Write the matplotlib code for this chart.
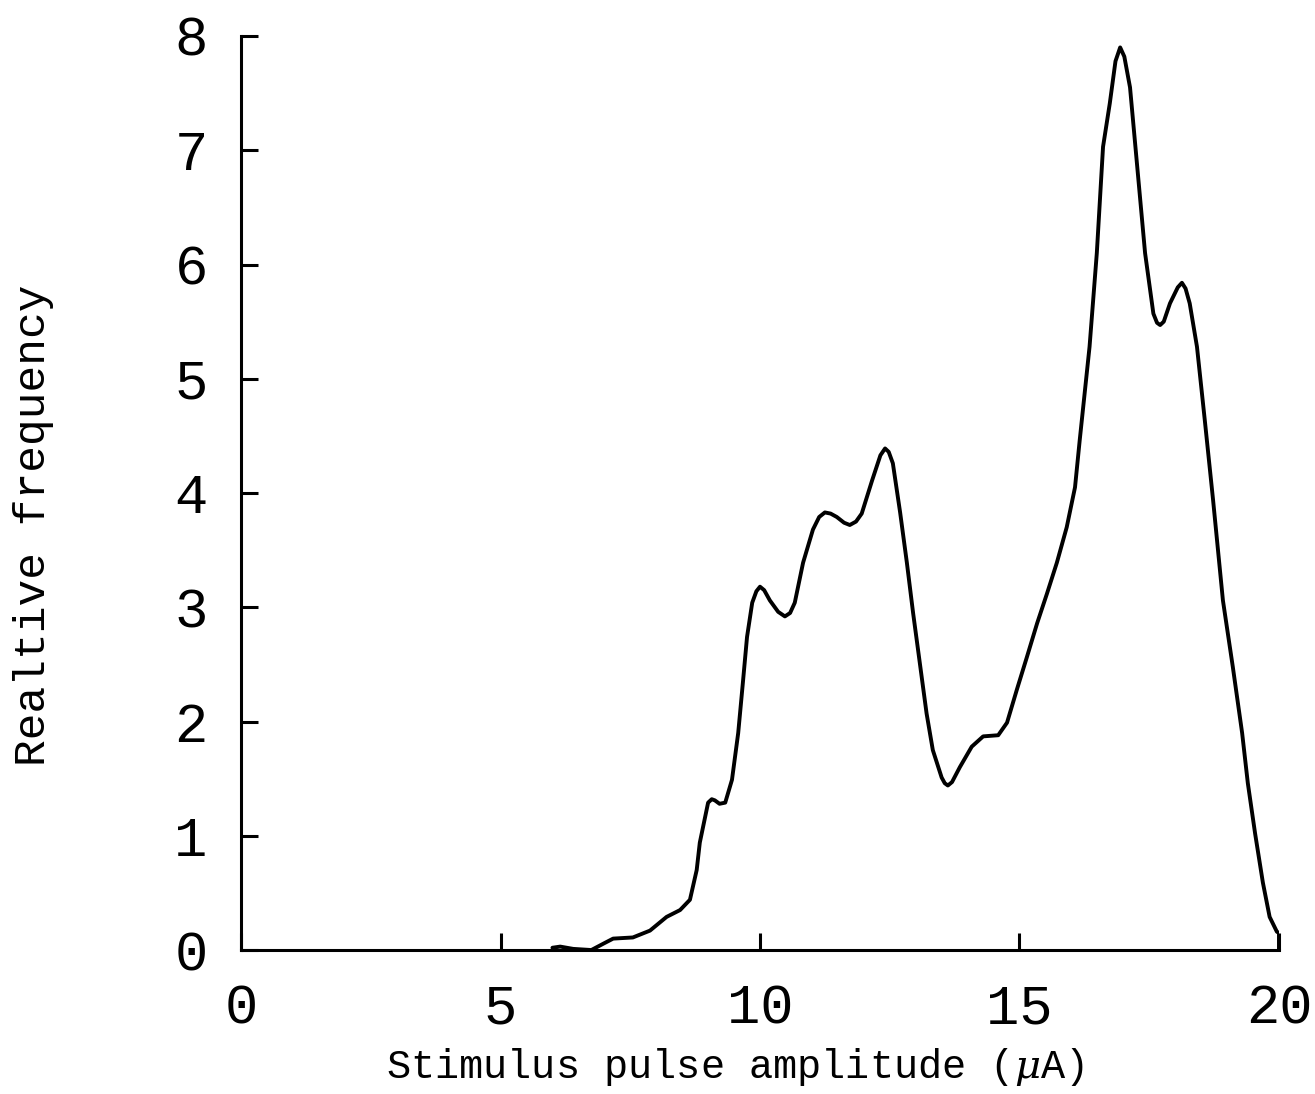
import matplotlib.pyplot as plt

# Stimulus pulse amplitude (uA) and relative frequency
amplitude = [
    6.0, 6.15, 6.4, 6.75, 7.0, 7.17, 7.55, 7.88, 8.2, 8.46, 8.65, 8.78,
    8.84, 9.0, 9.07, 9.13, 9.22, 9.33, 9.46, 9.58, 9.67, 9.75, 9.85, 9.93,
    10.0, 10.08, 10.19, 10.35, 10.48, 10.58, 10.67, 10.83, 11.02, 11.14,
    11.25, 11.36, 11.48, 11.62, 11.73, 11.85, 11.96, 12.16, 12.32, 12.41,
    12.48, 12.56, 12.7, 12.83, 12.95, 13.08, 13.21, 13.33, 13.5, 13.56,
    13.62, 13.7, 13.85, 14.08, 14.3, 14.59, 14.76, 14.95, 15.14, 15.34,
    15.53, 15.72, 15.91, 16.07, 16.16, 16.35, 16.49, 16.61, 16.74, 16.85,
    16.94, 17.02, 17.13, 17.28, 17.42, 17.58, 17.65, 17.71, 17.78, 17.9,
    18.05, 18.13, 18.2, 18.28, 18.42, 18.57, 18.73, 18.92, 19.11, 19.29,
    19.4, 19.54, 19.69, 19.82, 19.96, 20.0, 20.0,
]
frequency = [
    0.02, 0.03, 0.01, 0.0, 0.06, 0.1, 0.11, 0.17, 0.29, 0.35, 0.44, 0.7,
    0.94, 1.29, 1.32, 1.31, 1.28, 1.29, 1.49, 1.9, 2.34, 2.74, 3.04, 3.14,
    3.18, 3.15, 3.06, 2.96, 2.92, 2.95, 3.04, 3.39, 3.68, 3.79,
    3.83, 3.82, 3.79, 3.74, 3.72, 3.75, 3.82, 4.11, 4.33, 4.39,
    4.36, 4.26, 3.83, 3.39, 2.95, 2.51, 2.07, 1.75, 1.51, 1.46,
    1.44, 1.47, 1.6, 1.78, 1.87, 1.88, 1.99, 2.28, 2.56, 2.86,
    3.12, 3.39, 3.7, 4.05, 4.46, 5.28, 6.1, 7.03, 7.41, 7.78,
    7.9, 7.82, 7.55, 6.8, 6.1, 5.57, 5.49, 5.47, 5.5, 5.66,
    5.8, 5.84, 5.79, 5.66, 5.28, 4.64, 3.94, 3.06, 2.48, 1.9,
    1.46, 1.02, 0.59, 0.29, 0.16, 0.15, 0.0,
]
x_ticks = [0, 5, 10, 15, 20]
y_ticks = [0, 1, 2, 3, 4, 5, 6, 7, 8]

plt.rcParams["font.family"] = ["Liberation Mono", "DejaVu Sans"]
plt.rcParams["mathtext.fontset"] = "dejavuserif"

fig = plt.figure(figsize=(13.15, 10.94), dpi=100)
ax = fig.add_axes([0.1833, 0.1316, 0.7893, 0.8355])

ax.plot(amplitude, frequency, color="black", linewidth=2.8,
        solid_joinstyle="round", solid_capstyle="round")

ax.set_xlim(0, 20)
ax.set_ylim(0, 8)
ax.set_xticks(x_ticks)
ax.set_yticks(y_ticks)

# only left and bottom axes, ticks pointing inward
ax.spines["top"].set_visible(False)
ax.spines["right"].set_visible(False)
ax.spines["left"].set_linewidth(2.2)
ax.spines["bottom"].set_linewidth(2.2)
ax.tick_params(direction="in", length=12, width=2.2, labelsize=40, pad=24)

ax.set_xlabel(r"Stimulus pulse amplitude ($\mu$A)", fontsize=29)
ax.set_ylabel("Realtive frequency", fontsize=32)
ax.xaxis.set_label_coords(0.476, -0.105)
ax.yaxis.set_label_coords(-0.180, 0.465)

fig.savefig("out.png", dpi=100, facecolor="white")
